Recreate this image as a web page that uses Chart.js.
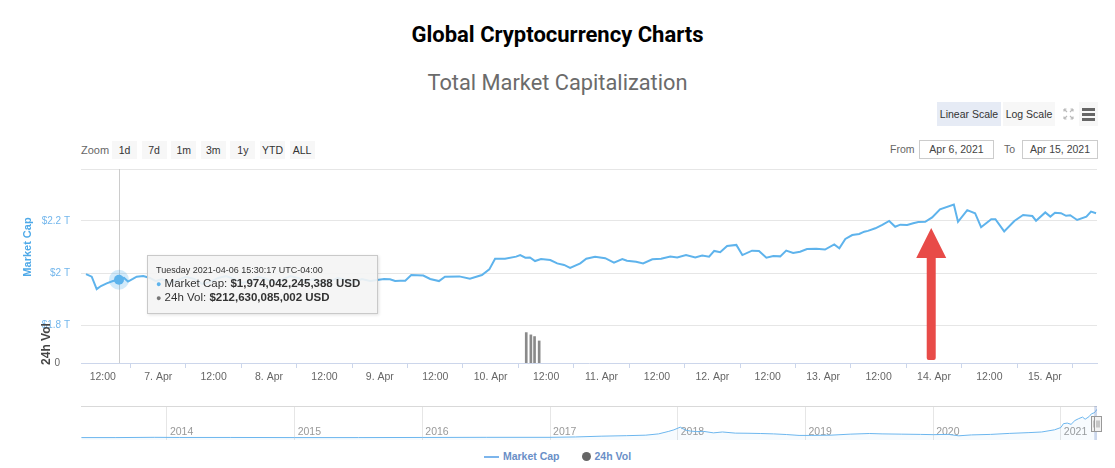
<!DOCTYPE html>
<html>
<head>
<meta charset="utf-8">
<title>Global Cryptocurrency Charts</title>
<script src="https://cdn.jsdelivr.net/npm/chart.js@4.4.1/dist/chart.umd.min.js"></script>
<style>
  body { margin: 0; background: #fff; font-family: "Liberation Sans", Arial, sans-serif; }
  #page { position: relative; width: 1115px; height: 468px; overflow: hidden; }
  .abs { position: absolute; }
  #title { top: 22px; left: 0; width: 1115px; text-align: center; font: bold 22px Roboto, "Liberation Sans", sans-serif; line-height: 26px; color: #000; }
  #subtitle { top: 70px; left: 0; width: 1115px; text-align: center; font: 21.8px Roboto, "Liberation Sans", sans-serif; line-height: 26px; color: #6b6b6b; }
  .btn { position: absolute; background: #f7f7f7; color: #333; font-size: 10.5px; text-align: center; }
  .zoombtn { top: 141px; width: 25px; height: 18px; line-height: 18px; }
  .scalebtn { top: 102px; height: 24px; line-height: 24px; }
  .lbl { position: absolute; color: #666; font-size: 10.5px; }
  .datebox { position: absolute; top: 140px; height: 17px; line-height: 17px; border: 1px solid #ccc; background: #fff; color: #444; font-size: 10.5px; text-align: center; }
  #main { position: absolute; left: 0; top: 160px; }
  #nav { position: absolute; left: 0; top: 400px; }
  #tip { position: absolute; display: none; box-sizing: border-box; width: 231px; height: 59px; padding: 8px 8px; background: rgba(244,244,244,0.9); border: 1px solid #c9c9c9; box-shadow: 1px 1px 3px rgba(0,0,0,0.12); color: #333; font-size: 11.5px; line-height: 13.5px; white-space: nowrap; }
  #tip .head { font-size: 9px; line-height: 13px; }
  #tip .dot { font-size: 9px; }
  #legend { top: 449px; left: 0; width: 1115px; text-align: center; font: bold 10.5px "Liberation Sans", Arial, sans-serif; color: #6a8fc7; line-height: 14px; }
  #legend .ln { display: inline-block; width: 15px; height: 2px; background: #7cb5ec; vertical-align: middle; margin-right: 4px; }
  #legend .dt { display: inline-block; width: 9px; height: 9px; border-radius: 50%; background: #666; vertical-align: -1px; margin: 0 4px 0 22px; }
  #menu { left: 1079px; top: 102px; width: 19px; height: 24px; }
  #menu i { position: absolute; left: 3px; width: 13px; height: 2.5px; background: #666; }
</style>
</head>
<body>
<div id="page">
  <div id="title" class="abs">Global Cryptocurrency Charts</div>
  <div id="subtitle" class="abs">Total Market Capitalization</div>

  <div class="btn scalebtn" style="left:937px;width:64px;background:#e6ebf5">Linear Scale</div>
  <div class="btn scalebtn" style="left:1003px;width:52px">Log Scale</div>
  <svg class="abs" style="left:1060px;top:102px" width="17" height="24">
    <g stroke="#bbb" stroke-width="1.2" fill="none">
      <path d="M7 10 L4 7 M4 7 H6.5 M4 7 V9.5"/>
      <path d="M10 10 L13 7 M13 7 H10.5 M13 7 V9.5"/>
      <path d="M7 14 L4 17 M4 17 H6.5 M4 17 V14.5"/>
      <path d="M10 14 L13 17 M13 17 H10.5 M13 17 V14.5"/>
    </g>
  </svg>
  <div id="menu" class="btn"><i style="top:6px"></i><i style="top:11px"></i><i style="top:16px"></i></div>

  <div class="lbl" style="left:81px;top:144px;font-size:11px">Zoom</div>
  <div id="zoomRow"></div>

  <div class="lbl" style="left:890px;top:143px">From</div>
  <div class="datebox" style="left:919px;width:73px">Apr 6, 2021</div>
  <div class="lbl" style="left:1004px;top:143px">To</div>
  <div class="datebox" style="left:1022px;width:74px">Apr 15, 2021</div>

  <canvas id="main" width="1115" height="230"></canvas>
  <canvas id="nav" width="1115" height="44"></canvas>
  <div id="tip"></div>

  <div id="legend" class="abs"><span class="ln"></span>Market Cap<span class="dt"></span>24h Vol</div>
</div>

<script>
// ---- data (hours counted from 2021-04-06 00:00, values in trillions USD) ----
const capHours = [8.36, 9.6, 10.68, 11.6, 12.84, 14.2, 15.504722, 16.6, 17.46, 18.5, 19.34, 20.77,
  22.2, 23.5, 24.8, 26.6, 28.3, 30.0, 31.8, 33.5, 35.2, 37.0, 38.7, 40.4, 42.2, 43.9, 45.6, 47.4,
  49.1, 50.8, 52.6, 54.3, 56.0, 57.8, 59.5, 61.2, 62.9, 64.7, 66.4, 68.1, 69.9, 71.4, 72.9, 74.2,
  75.3, 76.4, 77.5, 78.8, 81.4, 82.9, 84.8, 86.1, 89.2, 91.5, 94.1, 95.7, 96.95, 99.1, 101.5, 102.4,
  103.5, 104.5, 105.6, 106.9, 108.9, 110.4, 111.9, 113.2, 115.4, 116.7, 118.6, 120.8, 122.7, 124.5,
  125.5, 127.5, 129.0, 131.0, 132.9, 134.9, 136.4, 138.3, 140.3, 141.8, 143.3, 144.4, 145.7, 147.2,
  149.2, 150.5, 152.6, 154.1, 155.7, 157.2, 158.7, 160.0, 161.5, 163.0, 164.5, 166.5, 168.4, 170.4,
  171.5, 172.8, 174.3, 175.8, 176.9, 177.7, 179.3, 180.8, 182.3, 183.6, 184.7, 186.2, 187.5, 188.6,
  190.1, 191.6, 193.3, 196.3, 197.2, 199.2, 200.9, 202.2, 204.4, 205.3, 207.2, 209.4, 211.3, 213.3,
  214.1, 216.1, 217.2, 218.2, 219.5, 220.6, 221.5, 223.0, 225.0, 226.0, 227.1];
const capValues = [1.996, 1.986, 1.938, 1.950, 1.960, 1.969, 1.974042245388, 1.981, 1.967, 1.977, 1.986, 1.988,
  1.981, 1.969, 1.977, 1.962, 1.973, 1.985, 1.977, 1.958, 1.965, 1.981, 1.988, 1.977, 1.962, 1.969, 1.985, 1.977,
  1.965, 1.973, 1.988, 1.981, 1.969, 1.977, 1.962, 1.969, 1.981, 1.973, 1.965, 1.977, 1.969, 1.973, 1.977, 1.976,
  1.969, 1.970, 1.970, 1.992, 1.990, 1.977, 1.969, 1.986, 1.987, 1.978, 1.992, 2.014, 2.055, 2.055, 2.063, 2.069,
  2.059, 2.060, 2.046, 2.054, 2.050, 2.037, 2.031, 2.020, 2.037, 2.055, 2.062, 2.057, 2.040, 2.054,
  2.047, 2.043, 2.037, 2.053, 2.055, 2.063, 2.060, 2.069, 2.060, 2.067, 2.063, 2.085, 2.080, 2.104,
  2.108, 2.069, 2.086, 2.085, 2.059, 2.065, 2.064, 2.086, 2.077, 2.082, 2.092, 2.093, 2.090, 2.110,
  2.095, 2.131, 2.146, 2.150, 2.159, 2.162, 2.172, 2.185, 2.200, 2.178, 2.186, 2.185, 2.191, 2.196,
  2.197, 2.214, 2.245, 2.263, 2.197, 2.242, 2.230, 2.176, 2.207, 2.207, 2.160, 2.200, 2.223, 2.219,
  2.201, 2.233, 2.217, 2.232, 2.230, 2.220, 2.222, 2.204, 2.217, 2.236, 2.230];
const volHours = [103.7, 104.7, 105.5, 106.5];
const volValues = [200, 185, 174, 145];          // billions USD
const hoverIndex = 6;
const hoverVolume = 212630085002;
const capTicks = [1.8, 2.0, 2.2, 2.4];
const volTicks = [0];
const hourTicks = [12, 24, 36, 48, 60, 72, 84, 96, 108, 120, 132, 144, 156, 168, 180, 192, 204, 216];
const hourRange = [7.28, 227.3];
const arrowMark = { hour: 191.4, tip: 2.173, tail: 1.665 };

// navigator: whole history, year fractions / trillions USD
const navYears = [2013.33, 2013.6, 2013.9, 2014.1, 2014.5, 2015.0, 2015.5, 2016.0, 2016.5, 2017.0, 2017.2,
  2017.4, 2017.6, 2017.75, 2017.85, 2017.93, 2017.97, 2018.02, 2018.06, 2018.1, 2018.15, 2018.2, 2018.28,
  2018.35, 2018.45, 2018.55, 2018.65, 2018.75, 2018.85, 2018.95, 2019.05, 2019.2, 2019.35, 2019.5, 2019.6,
  2019.75, 2019.9, 2020.0, 2020.12, 2020.2, 2020.3, 2020.45, 2020.6, 2020.75, 2020.85, 2020.95, 2021.0,
  2021.02, 2021.05, 2021.08, 2021.11, 2021.14, 2021.17, 2021.19, 2021.22, 2021.24, 2021.26, 2021.27, 2021.283];
const navValues = [0.01, 0.01, 0.03, 0.02, 0.02, 0.01, 0.01, 0.02, 0.03, 0.03, 0.06,
  0.12, 0.16, 0.2, 0.3, 0.5, 0.62, 0.83, 0.6, 0.52, 0.48, 0.5, 0.38,
  0.45, 0.36, 0.35, 0.33, 0.3, 0.25, 0.18, 0.18, 0.2, 0.28, 0.33, 0.3,
  0.28, 0.26, 0.24, 0.26, 0.15, 0.22, 0.26, 0.34, 0.4, 0.45, 0.62, 0.8,
  1.1, 1.15, 1.05, 1.35, 1.5, 1.62, 1.45, 1.65, 1.88, 1.95, 2.05, 2.23];
const yearTicks = [2014, 2015, 2016, 2017, 2018, 2019, 2020, 2021];
const yearRange = [2013.327, 2021.283];
const selection = [2021.2614, 2021.283];
const zoomButtons = ['1d', '7d', '1m', '3m', '1y', 'YTD', 'ALL'];

const FONT = '"Liberation Sans", Arial, sans-serif';
const capColor = '#5eb3ec';
Chart.defaults.font.family = FONT;

// range selector buttons
const row = document.getElementById('zoomRow');
zoomButtons.forEach((t, i) => {
  const b = document.createElement('div');
  b.className = 'btn zoombtn';
  b.style.left = (112 + i * 29.6) + 'px';
  b.textContent = t;
  row.appendChild(b);
});

const DAYS = ['Sunday', 'Monday', 'Tuesday', 'Wednesday', 'Thursday', 'Friday', 'Saturday'];
const pad = n => String(n).padStart(2, '0');

function showTip({ chart, tooltip }) {
  const tip = document.getElementById('tip');
  if (!tooltip.opacity || !tooltip.dataPoints || !tooltip.dataPoints.length) { tip.style.display = 'none'; return; }
  const p = tooltip.dataPoints[0];
  const d = new Date(Date.UTC(2021, 3, 6) + Math.round(p.parsed.x * 3600) * 1000);
  const when = DAYS[d.getUTCDay()] + ' ' + d.getUTCFullYear() + '-' + pad(d.getUTCMonth() + 1) + '-' + pad(d.getUTCDate()) +
    ' ' + pad(d.getUTCHours()) + ':' + pad(d.getUTCMinutes()) + ':' + pad(d.getUTCSeconds()) + ' UTC-04:00';
  const cap = Math.round(p.parsed.y * 1e12).toLocaleString('en-US');
  tip.innerHTML = '<div class="head">' + when + '</div>' +
    '<div><span class="dot" style="color:' + capColor + '">\u25CF</span> Market Cap: <b>$' + cap + ' USD</b></div>' +
    '<div><span class="dot" style="color:#777">\u25CF</span> 24h Vol: <b>$' + hoverVolume.toLocaleString('en-US') + ' USD</b></div>';
  tip.style.display = 'block';
  tip.style.left = (chart.canvas.offsetLeft + tooltip.caretX + 28) + 'px';
  tip.style.top = (chart.canvas.offsetTop + tooltip.caretY - 25) + 'px';
}

// no label padding, so the panes keep the exact height
const noPad = w => s => { if (w) s.width = w; s.paddingTop = 0; s.paddingBottom = 0; };

const mainExtras = {
  id: 'mainExtras',
  beforeDatasetsDraw(chart) {
    const act = chart.getActiveElements();
    if (!act.length) return;
    const { ctx, chartArea } = chart;
    const x = Math.round(act[0].element.x) + 0.5;
    ctx.save();
    ctx.strokeStyle = '#cccccc'; ctx.lineWidth = 1;
    ctx.beginPath(); ctx.moveTo(x, chartArea.top); ctx.lineTo(x, chartArea.bottom); ctx.stroke();
    ctx.restore();
  },
  afterDraw(chart) {
    const { ctx } = chart;
    const y = chart.scales.y, v = chart.scales.yv, x = chart.scales.x;
    ctx.save();
    ctx.textAlign = 'center'; ctx.textBaseline = 'middle';
    ctx.translate(28, (y.top + y.bottom) / 2); ctx.rotate(-Math.PI / 2);
    ctx.font = 'bold 11px ' + FONT; ctx.fillStyle = '#4ea9e8';
    ctx.fillText('Market Cap', 0, 0);
    ctx.restore();
    ctx.save();
    ctx.textAlign = 'center'; ctx.textBaseline = 'middle';
    ctx.translate(47, (v.top + v.bottom) / 2); ctx.rotate(-Math.PI / 2);
    ctx.font = 'bold 12px ' + FONT; ctx.fillStyle = '#444';
    ctx.fillText('24h Vol', 0, 0);
    ctx.restore();

    // red pointer arrow
    const ax = x.getPixelForValue(arrowMark.hour);
    const ty = y.getPixelForValue(arrowMark.tip);
    const by = y.getPixelForValue(arrowMark.tail);
    ctx.save();
    ctx.fillStyle = '#e84b48';
    ctx.beginPath();
    ctx.moveTo(ax, ty);
    ctx.lineTo(ax + 15, ty + 30);
    ctx.lineTo(ax + 4.5, ty + 30);
    ctx.lineTo(ax + 4.5, by - 2);
    ctx.quadraticCurveTo(ax + 4.5, by, ax + 2.5, by);
    ctx.lineTo(ax - 2.5, by);
    ctx.quadraticCurveTo(ax - 4.5, by, ax - 4.5, by - 2);
    ctx.lineTo(ax - 4.5, ty + 30);
    ctx.lineTo(ax - 15, ty + 30);
    ctx.closePath();
    ctx.fill();
    ctx.restore();
  }
};

const mainChart = new Chart(document.getElementById('main'), {
  type: 'line',
  data: {
    datasets: [{
      label: 'Market Cap',
      data: capHours.map((h, i) => ({ x: h, y: capValues[i] })),
      yAxisID: 'y',
      borderColor: capColor,
      borderWidth: 2,
      pointRadius: 0,
      pointHoverRadius: 5,
      pointHoverBackgroundColor: capColor,
      pointHoverBorderColor: 'rgba(94,179,236,0.28)',
      pointHoverBorderWidth: 10,
      tension: 0
    }, {
      type: 'bar',
      label: '24h Vol',
      data: volHours.map((h, i) => ({ x: h, y: volValues[i] })),
      yAxisID: 'yv',
      backgroundColor: '#8a8a8a',
      barThickness: 2
    }]
  },
  options: {
    responsive: false,
    animation: false,
    devicePixelRatio: 1,
    events: [],
    layout: { padding: { top: 9, right: 18, left: 0, bottom: 0 } },
    plugins: {
      legend: { display: false },
      title: { display: false },
      tooltip: { enabled: false, external: showTip }
    },
    scales: {
      x: {
        type: 'linear', min: hourRange[0], max: hourRange[1], offset: false,
        afterBuildTicks: s => { s.ticks = hourTicks.map(v => ({ value: v })); },
        afterFit: s => { s.height = 27; s.paddingLeft = 0; s.paddingRight = 0; },
        grid: { display: true, drawOnChartArea: false, drawTicks: true, tickLength: 5, color: '#ccd6eb' },
        border: { display: true, color: '#ccd6eb' },
        ticks: {
          autoSkip: false, maxRotation: 0, padding: 3, color: '#666', font: { size: 10.5 },
          callback: v => v % 24 === 0 ? (6 + v / 24) + '. Apr' : '12:00'
        }
      },
      yv: {
        type: 'linear', position: 'left', stack: 'panes', stackWeight: 38,
        min: 0, max: 250,
        afterBuildTicks: s => { s.ticks = volTicks.map(v => ({ value: v })); },
        afterFit: noPad(81),
        grid: { display: false },
        border: { display: false },
        ticks: { padding: 13, color: '#666', font: { size: 10 } }
      },
      y: {
        type: 'linear', position: 'left', stack: 'panes', stackWeight: 156,
        min: capTicks[0], max: capTicks[capTicks.length - 1],
        afterBuildTicks: s => { s.ticks = capTicks.map(v => ({ value: v })); },
        afterFit: noPad(81),
        grid: { color: '#e6e6e6', drawTicks: false },
        border: { display: false },
        ticks: {
          padding: 11, color: '#72b6ec', font: { size: 10 },
          callback: v => v === capTicks[capTicks.length - 1] ? '' : '$' + (+v.toFixed(1)) + ' T'
        }
      }
    }
  },
  plugins: [mainExtras]
});

// show the hovered point the way the screenshot has it
const active = [{ datasetIndex: 0, index: hoverIndex }];
mainChart.setActiveElements(active);
const hp = mainChart.getDatasetMeta(0).data[hoverIndex];
mainChart.tooltip.setActiveElements(active, { x: hp.x, y: hp.y });
mainChart.draw();

// ---- navigator ----
const navExtras = {
  id: 'navExtras',
  beforeDatasetsDraw(chart) {
    const { ctx, chartArea } = chart;
    const x = chart.scales.x;
    ctx.save();
    ctx.font = '10.5px ' + FONT; ctx.fillStyle = '#999';
    ctx.textAlign = 'left'; ctx.textBaseline = 'middle';
    yearTicks.forEach(t => ctx.fillText(String(t), x.getPixelForValue(t) + 3, chartArea.top + 26));
    ctx.restore();
  },
  afterDraw(chart) {
    const { ctx, chartArea } = chart;
    const x = chart.scales.x;
    ctx.save();
    ctx.strokeStyle = '#d9d9d9'; ctx.lineWidth = 1;
    ctx.beginPath(); ctx.moveTo(chartArea.left, chartArea.top + 0.5); ctx.lineTo(chartArea.right, chartArea.top + 0.5); ctx.stroke();
    const x0 = x.getPixelForValue(selection[0]), x1 = x.getPixelForValue(selection[1]);
    ctx.fillStyle = 'rgba(102,133,194,0.3)';
    ctx.fillRect(x0, chartArea.top, x1 - x0, chartArea.bottom - chartArea.top);
    const mid = (chartArea.top + chartArea.bottom) / 2;
    [x0, x1].forEach(hx => {
      const left = Math.round(hx - 3.5) + 0.5, top = Math.round(mid - 7.5) + 0.5;
      ctx.fillStyle = '#f2f2f2'; ctx.strokeStyle = '#999';
      ctx.fillRect(left, top, 7, 15); ctx.strokeRect(left, top, 7, 15);
      ctx.beginPath();
      ctx.moveTo(left + 2.5, top + 4); ctx.lineTo(left + 2.5, top + 11);
      ctx.moveTo(left + 4.5, top + 4); ctx.lineTo(left + 4.5, top + 11);
      ctx.stroke();
    });
    ctx.restore();
  }
};

new Chart(document.getElementById('nav'), {
  type: 'line',
  data: {
    datasets: [{
      data: navYears.map((t, i) => ({ x: t, y: navValues[i] })),
      borderColor: '#6cb6ee',
      borderWidth: 1,
      pointRadius: 0,
      fill: 'start',
      backgroundColor: 'rgba(124,181,236,0.06)',
      tension: 0
    }]
  },
  options: {
    responsive: false,
    animation: false,
    devicePixelRatio: 1,
    events: [],
    layout: { padding: { top: 6, right: 18, left: 81, bottom: 4 } },
    plugins: { legend: { display: false }, tooltip: { enabled: false } },
    scales: {
      x: {
        type: 'linear', min: yearRange[0], max: yearRange[1],
        afterBuildTicks: s => { s.ticks = yearTicks.map(v => ({ value: v })); },
        afterFit: s => { s.height = 0; },
        ticks: { display: false },
        grid: { color: '#e6e6e6', drawTicks: false },
        border: { display: false }
      },
      y: { display: false, min: -0.18, max: 2.49 }
    }
  },
  plugins: [navExtras]
});
</script>
</body>
</html>
